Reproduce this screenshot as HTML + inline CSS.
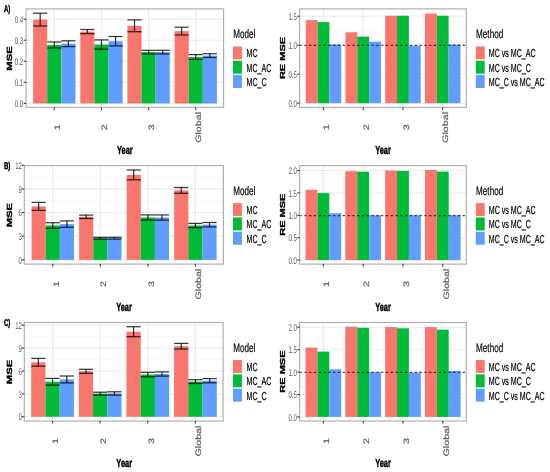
<!DOCTYPE html>
<html><head><meta charset="utf-8"><title>Figure</title>
<style>html,body{margin:0;padding:0;background:#fff;width:550px;height:472px;overflow:hidden}svg{display:block;filter:blur(0.45px)}</style>
</head><body>
<svg width="550" height="472" viewBox="0 0 550 472" text-rendering="geometricPrecision" font-family='"Liberation Sans", sans-serif'>
<rect x="0" y="0" width="550" height="472" fill="#FFFFFF"/>
<g transform="translate(0,0)">
<text transform="translate(3.9,12) scale(0.62,1)" font-size="9.8" text-anchor="start" font-weight="bold" fill="#000" stroke="#000" stroke-width="0.45">A)</text>
<rect x="26.1" y="8.9" width="197.5" height="98.5" fill="#FFFFFF"/>
<line x1="26.1" y1="92.88" x2="223.6" y2="92.88" stroke="#F2F2F2" stroke-width="0.6"/>
<line x1="26.1" y1="71.83" x2="223.6" y2="71.83" stroke="#F2F2F2" stroke-width="0.6"/>
<line x1="26.1" y1="50.78" x2="223.6" y2="50.78" stroke="#F2F2F2" stroke-width="0.6"/>
<line x1="26.1" y1="29.73" x2="223.6" y2="29.73" stroke="#F2F2F2" stroke-width="0.6"/>
<line x1="26.1" y1="103.4" x2="223.6" y2="103.4" stroke="#E6E6E6" stroke-width="0.9"/>
<line x1="26.1" y1="82.35" x2="223.6" y2="82.35" stroke="#E6E6E6" stroke-width="0.9"/>
<line x1="26.1" y1="61.3" x2="223.6" y2="61.3" stroke="#E6E6E6" stroke-width="0.9"/>
<line x1="26.1" y1="40.25" x2="223.6" y2="40.25" stroke="#E6E6E6" stroke-width="0.9"/>
<line x1="26.1" y1="19.2" x2="223.6" y2="19.2" stroke="#E6E6E6" stroke-width="0.9"/>
<line x1="54.3" y1="8.9" x2="54.3" y2="107.4" stroke="#E6E6E6" stroke-width="0.9"/>
<line x1="101.45" y1="8.9" x2="101.45" y2="107.4" stroke="#E6E6E6" stroke-width="0.9"/>
<line x1="148.6" y1="8.9" x2="148.6" y2="107.4" stroke="#E6E6E6" stroke-width="0.9"/>
<line x1="195.75" y1="8.9" x2="195.75" y2="107.4" stroke="#E6E6E6" stroke-width="0.9"/>
<rect x="33.15" y="19.6" width="14.1" height="83.8" fill="#F8766D"/>
<rect x="47.25" y="45" width="14.1" height="58.4" fill="#00BA38"/>
<rect x="61.35" y="43.7" width="14.1" height="59.7" fill="#619CFF"/>
<rect x="80.3" y="31.6" width="14.1" height="71.8" fill="#F8766D"/>
<rect x="94.4" y="44.5" width="14.1" height="58.9" fill="#00BA38"/>
<rect x="108.5" y="41.2" width="14.1" height="62.2" fill="#619CFF"/>
<rect x="127.45" y="25.8" width="14.1" height="77.6" fill="#F8766D"/>
<rect x="141.55" y="52.1" width="14.1" height="51.3" fill="#00BA38"/>
<rect x="155.65" y="52.1" width="14.1" height="51.3" fill="#619CFF"/>
<rect x="174.6" y="31.1" width="14.1" height="72.3" fill="#F8766D"/>
<rect x="188.7" y="57" width="14.1" height="46.4" fill="#00BA38"/>
<rect x="202.8" y="55.6" width="14.1" height="47.8" fill="#619CFF"/>
<g stroke="#000" stroke-opacity="0.78" stroke-width="1.25" fill="none">
<line x1="33.15" y1="13.2" x2="47.25" y2="13.2" stroke="#000" stroke-width="1.25"/>
<line x1="33.15" y1="26" x2="47.25" y2="26" stroke="#000" stroke-width="1.25"/>
<line x1="40.2" y1="13.2" x2="40.2" y2="26" stroke="#000" stroke-width="1.25"/>
</g>
<g stroke="#000" stroke-opacity="0.78" stroke-width="1.25" fill="none">
<line x1="47.25" y1="42" x2="61.35" y2="42" stroke="#000" stroke-width="1.25"/>
<line x1="47.25" y1="48" x2="61.35" y2="48" stroke="#000" stroke-width="1.25"/>
<line x1="54.3" y1="42" x2="54.3" y2="48" stroke="#000" stroke-width="1.25"/>
</g>
<g stroke="#000" stroke-opacity="0.78" stroke-width="1.25" fill="none">
<line x1="61.35" y1="40.8" x2="75.45" y2="40.8" stroke="#000" stroke-width="1.25"/>
<line x1="61.35" y1="46.6" x2="75.45" y2="46.6" stroke="#000" stroke-width="1.25"/>
<line x1="68.4" y1="40.8" x2="68.4" y2="46.6" stroke="#000" stroke-width="1.25"/>
</g>
<g stroke="#000" stroke-opacity="0.78" stroke-width="1.25" fill="none">
<line x1="80.3" y1="29.5" x2="94.4" y2="29.5" stroke="#000" stroke-width="1.25"/>
<line x1="80.3" y1="33.7" x2="94.4" y2="33.7" stroke="#000" stroke-width="1.25"/>
<line x1="87.35" y1="29.5" x2="87.35" y2="33.7" stroke="#000" stroke-width="1.25"/>
</g>
<g stroke="#000" stroke-opacity="0.78" stroke-width="1.25" fill="none">
<line x1="94.4" y1="39.9" x2="108.5" y2="39.9" stroke="#000" stroke-width="1.25"/>
<line x1="94.4" y1="49.1" x2="108.5" y2="49.1" stroke="#000" stroke-width="1.25"/>
<line x1="101.45" y1="39.9" x2="101.45" y2="49.1" stroke="#000" stroke-width="1.25"/>
</g>
<g stroke="#000" stroke-opacity="0.78" stroke-width="1.25" fill="none">
<line x1="108.5" y1="36.5" x2="122.6" y2="36.5" stroke="#000" stroke-width="1.25"/>
<line x1="108.5" y1="45.9" x2="122.6" y2="45.9" stroke="#000" stroke-width="1.25"/>
<line x1="115.55" y1="36.5" x2="115.55" y2="45.9" stroke="#000" stroke-width="1.25"/>
</g>
<g stroke="#000" stroke-opacity="0.78" stroke-width="1.25" fill="none">
<line x1="127.45" y1="19.9" x2="141.55" y2="19.9" stroke="#000" stroke-width="1.25"/>
<line x1="127.45" y1="31.7" x2="141.55" y2="31.7" stroke="#000" stroke-width="1.25"/>
<line x1="134.5" y1="19.9" x2="134.5" y2="31.7" stroke="#000" stroke-width="1.25"/>
</g>
<g stroke="#000" stroke-opacity="0.78" stroke-width="1.25" fill="none">
<line x1="141.55" y1="50.3" x2="155.65" y2="50.3" stroke="#000" stroke-width="1.25"/>
<line x1="141.55" y1="53.9" x2="155.65" y2="53.9" stroke="#000" stroke-width="1.25"/>
<line x1="148.6" y1="50.3" x2="148.6" y2="53.9" stroke="#000" stroke-width="1.25"/>
</g>
<g stroke="#000" stroke-opacity="0.78" stroke-width="1.25" fill="none">
<line x1="155.65" y1="50.3" x2="169.75" y2="50.3" stroke="#000" stroke-width="1.25"/>
<line x1="155.65" y1="53.9" x2="169.75" y2="53.9" stroke="#000" stroke-width="1.25"/>
<line x1="162.7" y1="50.3" x2="162.7" y2="53.9" stroke="#000" stroke-width="1.25"/>
</g>
<g stroke="#000" stroke-opacity="0.78" stroke-width="1.25" fill="none">
<line x1="174.6" y1="27.2" x2="188.7" y2="27.2" stroke="#000" stroke-width="1.25"/>
<line x1="174.6" y1="35" x2="188.7" y2="35" stroke="#000" stroke-width="1.25"/>
<line x1="181.65" y1="27.2" x2="181.65" y2="35" stroke="#000" stroke-width="1.25"/>
</g>
<g stroke="#000" stroke-opacity="0.78" stroke-width="1.25" fill="none">
<line x1="188.7" y1="54.6" x2="202.8" y2="54.6" stroke="#000" stroke-width="1.25"/>
<line x1="188.7" y1="59.4" x2="202.8" y2="59.4" stroke="#000" stroke-width="1.25"/>
<line x1="195.75" y1="54.6" x2="195.75" y2="59.4" stroke="#000" stroke-width="1.25"/>
</g>
<g stroke="#000" stroke-opacity="0.78" stroke-width="1.25" fill="none">
<line x1="202.8" y1="53.7" x2="216.9" y2="53.7" stroke="#000" stroke-width="1.25"/>
<line x1="202.8" y1="57.5" x2="216.9" y2="57.5" stroke="#000" stroke-width="1.25"/>
<line x1="209.85" y1="53.7" x2="209.85" y2="57.5" stroke="#000" stroke-width="1.25"/>
</g>
<rect x="26.1" y="8.9" width="197.5" height="98.5" fill="none" stroke="#ADADAD" stroke-width="1.15"/>
<line x1="23.7" y1="103.4" x2="26.1" y2="103.4" stroke="#3A3A3A" stroke-width="1.1"/>
<text transform="translate(23.2,107) scale(0.62,1)" font-size="9.8" text-anchor="end" font-weight="normal" fill="#5C5C5C">0.0</text>
<line x1="23.7" y1="82.35" x2="26.1" y2="82.35" stroke="#3A3A3A" stroke-width="1.1"/>
<text transform="translate(23.2,86) scale(0.62,1)" font-size="9.8" text-anchor="end" font-weight="normal" fill="#5C5C5C">0.1</text>
<line x1="23.7" y1="61.3" x2="26.1" y2="61.3" stroke="#3A3A3A" stroke-width="1.1"/>
<text transform="translate(23.2,65) scale(0.62,1)" font-size="9.8" text-anchor="end" font-weight="normal" fill="#5C5C5C">0.2</text>
<line x1="23.7" y1="40.25" x2="26.1" y2="40.25" stroke="#3A3A3A" stroke-width="1.1"/>
<text transform="translate(23.2,44) scale(0.62,1)" font-size="9.8" text-anchor="end" font-weight="normal" fill="#5C5C5C">0.3</text>
<line x1="23.7" y1="19.2" x2="26.1" y2="19.2" stroke="#3A3A3A" stroke-width="1.1"/>
<text transform="translate(23.2,23) scale(0.62,1)" font-size="9.8" text-anchor="end" font-weight="normal" fill="#5C5C5C">0.4</text>
<line x1="54.3" y1="107.4" x2="54.3" y2="110" stroke="#3A3A3A" stroke-width="1.1"/>
<line x1="101.45" y1="107.4" x2="101.45" y2="110" stroke="#3A3A3A" stroke-width="1.1"/>
<line x1="148.6" y1="107.4" x2="148.6" y2="110" stroke="#3A3A3A" stroke-width="1.1"/>
<line x1="195.75" y1="107.4" x2="195.75" y2="110" stroke="#3A3A3A" stroke-width="1.1"/>
<text transform="translate(60.03,127.4) scale(0.74,1) rotate(-90)" font-size="10.7" text-anchor="middle" font-weight="normal" fill="#5C5C5C" stroke="#5C5C5C" stroke-width="0.25">1</text>
<text transform="translate(107.18,127.4) scale(0.74,1) rotate(-90)" font-size="10.7" text-anchor="middle" font-weight="normal" fill="#5C5C5C" stroke="#5C5C5C" stroke-width="0.25">2</text>
<text transform="translate(154.33,127.4) scale(0.74,1) rotate(-90)" font-size="10.7" text-anchor="middle" font-weight="normal" fill="#5C5C5C" stroke="#5C5C5C" stroke-width="0.25">3</text>
<text transform="translate(201.48,127.4) scale(0.74,1) rotate(-90)" font-size="10.7" text-anchor="middle" font-weight="normal" fill="#5C5C5C" stroke="#5C5C5C" stroke-width="0.25">Global</text>
<text transform="translate(124.9,154) scale(0.63,1)" font-size="11.8" text-anchor="middle" font-weight="bold" fill="#000" stroke="#000" stroke-width="0.45">Year</text>
<text transform="translate(11.9,58.4) scale(0.66,1) rotate(-90)" font-size="11.3" text-anchor="middle" font-weight="bold" fill="#000" stroke="#000" stroke-width="0.45">MSE</text>
<text transform="translate(233.3,38) scale(0.66,1)" font-size="12.3" text-anchor="start" font-weight="normal" fill="#000" stroke="#000" stroke-width="0.2">Model</text>
<rect x="233" y="46.45" width="8.9" height="12.95" fill="#F8766D"/>
<text transform="translate(246.5,57) scale(0.61,1)" font-size="11.6" text-anchor="start" font-weight="normal" fill="#000" stroke="#000" stroke-width="0.22">MC</text>
<rect x="233" y="60.75" width="8.9" height="12.95" fill="#00BA38"/>
<text transform="translate(246.5,72) scale(0.61,1)" font-size="11.6" text-anchor="start" font-weight="normal" fill="#000" stroke="#000" stroke-width="0.22">MC_AC</text>
<rect x="233" y="75.05" width="8.9" height="12.95" fill="#619CFF"/>
<text transform="translate(246.5,86) scale(0.61,1)" font-size="11.6" text-anchor="start" font-weight="normal" fill="#000" stroke="#000" stroke-width="0.22">MC_C</text>
<rect x="299.6" y="8.9" width="166.7" height="98.5" fill="#FFFFFF"/>
<line x1="299.6" y1="88.7" x2="466.3" y2="88.7" stroke="#F2F2F2" stroke-width="0.6"/>
<line x1="299.6" y1="59.7" x2="466.3" y2="59.7" stroke="#F2F2F2" stroke-width="0.6"/>
<line x1="299.6" y1="30.7" x2="466.3" y2="30.7" stroke="#F2F2F2" stroke-width="0.6"/>
<line x1="299.6" y1="103.2" x2="466.3" y2="103.2" stroke="#E6E6E6" stroke-width="0.9"/>
<line x1="299.6" y1="74.2" x2="466.3" y2="74.2" stroke="#E6E6E6" stroke-width="0.9"/>
<line x1="299.6" y1="45.2" x2="466.3" y2="45.2" stroke="#E6E6E6" stroke-width="0.9"/>
<line x1="299.6" y1="16.2" x2="466.3" y2="16.2" stroke="#E6E6E6" stroke-width="0.9"/>
<line x1="323.5" y1="8.9" x2="323.5" y2="107.4" stroke="#E6E6E6" stroke-width="0.9"/>
<line x1="363.23" y1="8.9" x2="363.23" y2="107.4" stroke="#E6E6E6" stroke-width="0.9"/>
<line x1="402.95" y1="8.9" x2="402.95" y2="107.4" stroke="#E6E6E6" stroke-width="0.9"/>
<line x1="442.69" y1="8.9" x2="442.69" y2="107.4" stroke="#E6E6E6" stroke-width="0.9"/>
<rect x="305.75" y="20.1" width="11.83" height="83.1" fill="#F8766D"/>
<rect x="317.58" y="22.1" width="11.83" height="81.1" fill="#00BA38"/>
<rect x="329.41" y="44.3" width="11.83" height="58.9" fill="#619CFF"/>
<rect x="345.48" y="32.3" width="11.83" height="70.9" fill="#F8766D"/>
<rect x="357.31" y="36.6" width="11.83" height="66.6" fill="#00BA38"/>
<rect x="369.14" y="41.7" width="11.83" height="61.5" fill="#619CFF"/>
<rect x="385.21" y="15.7" width="11.83" height="87.5" fill="#F8766D"/>
<rect x="397.04" y="15.7" width="11.83" height="87.5" fill="#00BA38"/>
<rect x="408.87" y="45.7" width="11.83" height="57.5" fill="#619CFF"/>
<rect x="424.94" y="13.5" width="11.83" height="89.7" fill="#F8766D"/>
<rect x="436.77" y="15.7" width="11.83" height="87.5" fill="#00BA38"/>
<rect x="448.6" y="44.4" width="11.83" height="58.8" fill="#619CFF"/>
<line x1="299.6" y1="45.4" x2="466.3" y2="45.4" stroke="#000" stroke-width="1.25" stroke-dasharray="2.1 2.7" stroke-opacity="0.72"/>
<rect x="299.6" y="8.9" width="166.7" height="98.5" fill="none" stroke="#ADADAD" stroke-width="1.15"/>
<line x1="297.2" y1="103.2" x2="299.6" y2="103.2" stroke="#3A3A3A" stroke-width="1.1"/>
<text transform="translate(296.9,107) scale(0.62,1)" font-size="9.8" text-anchor="end" font-weight="normal" fill="#5C5C5C">0.0</text>
<line x1="297.2" y1="74.2" x2="299.6" y2="74.2" stroke="#3A3A3A" stroke-width="1.1"/>
<text transform="translate(296.9,78) scale(0.62,1)" font-size="9.8" text-anchor="end" font-weight="normal" fill="#5C5C5C">0.5</text>
<line x1="297.2" y1="45.2" x2="299.6" y2="45.2" stroke="#3A3A3A" stroke-width="1.1"/>
<text transform="translate(296.9,49) scale(0.62,1)" font-size="9.8" text-anchor="end" font-weight="normal" fill="#5C5C5C">1.0</text>
<line x1="297.2" y1="16.2" x2="299.6" y2="16.2" stroke="#3A3A3A" stroke-width="1.1"/>
<text transform="translate(296.9,20) scale(0.62,1)" font-size="9.8" text-anchor="end" font-weight="normal" fill="#5C5C5C">1.5</text>
<line x1="323.5" y1="107.4" x2="323.5" y2="110" stroke="#3A3A3A" stroke-width="1.1"/>
<line x1="363.23" y1="107.4" x2="363.23" y2="110" stroke="#3A3A3A" stroke-width="1.1"/>
<line x1="402.95" y1="107.4" x2="402.95" y2="110" stroke="#3A3A3A" stroke-width="1.1"/>
<line x1="442.69" y1="107.4" x2="442.69" y2="110" stroke="#3A3A3A" stroke-width="1.1"/>
<text transform="translate(329.23,127.4) scale(0.74,1) rotate(-90)" font-size="10.7" text-anchor="middle" font-weight="normal" fill="#5C5C5C" stroke="#5C5C5C" stroke-width="0.25">1</text>
<text transform="translate(368.96,127.4) scale(0.74,1) rotate(-90)" font-size="10.7" text-anchor="middle" font-weight="normal" fill="#5C5C5C" stroke="#5C5C5C" stroke-width="0.25">2</text>
<text transform="translate(408.69,127.4) scale(0.74,1) rotate(-90)" font-size="10.7" text-anchor="middle" font-weight="normal" fill="#5C5C5C" stroke="#5C5C5C" stroke-width="0.25">3</text>
<text transform="translate(448.42,127.4) scale(0.74,1) rotate(-90)" font-size="10.7" text-anchor="middle" font-weight="normal" fill="#5C5C5C" stroke="#5C5C5C" stroke-width="0.25">Global</text>
<text transform="translate(383,154) scale(0.63,1)" font-size="11.8" text-anchor="middle" font-weight="bold" fill="#000" stroke="#000" stroke-width="0.45">Year</text>
<text transform="translate(285.4,58) scale(0.66,1) rotate(-90)" font-size="11" text-anchor="middle" font-weight="bold" fill="#000" stroke="#000" stroke-width="0.45">RE MSE</text>
<text transform="translate(476.1,38) scale(0.66,1)" font-size="12.3" text-anchor="start" font-weight="normal" fill="#000" stroke="#000" stroke-width="0.2">Method</text>
<rect x="475.8" y="46.45" width="8.9" height="12.95" fill="#F8766D"/>
<text transform="translate(488.8,57) scale(0.61,1)" font-size="11.6" text-anchor="start" font-weight="normal" fill="#000" stroke="#000" stroke-width="0.22">MC vs MC_AC</text>
<rect x="475.8" y="60.75" width="8.9" height="12.95" fill="#00BA38"/>
<text transform="translate(488.8,72) scale(0.61,1)" font-size="11.6" text-anchor="start" font-weight="normal" fill="#000" stroke="#000" stroke-width="0.22">MC vs MC_C</text>
<rect x="475.8" y="75.05" width="8.9" height="12.95" fill="#619CFF"/>
<text transform="translate(488.8,86) scale(0.61,1)" font-size="11.6" text-anchor="start" font-weight="normal" fill="#000" stroke="#000" stroke-width="0.22">MC_C vs MC_AC</text>
</g>
<g transform="translate(0,156.7)">
<text transform="translate(3.9,12.3) scale(0.62,1)" font-size="9.8" text-anchor="start" font-weight="bold" fill="#000" stroke="#000" stroke-width="0.45">B)</text>
<rect x="24.3" y="8.9" width="199.1" height="98.5" fill="#FFFFFF"/>
<line x1="24.3" y1="91.37" x2="223.4" y2="91.37" stroke="#F2F2F2" stroke-width="0.6"/>
<line x1="24.3" y1="67.72" x2="223.4" y2="67.72" stroke="#F2F2F2" stroke-width="0.6"/>
<line x1="24.3" y1="44.07" x2="223.4" y2="44.07" stroke="#F2F2F2" stroke-width="0.6"/>
<line x1="24.3" y1="20.42" x2="223.4" y2="20.42" stroke="#F2F2F2" stroke-width="0.6"/>
<line x1="24.3" y1="103.2" x2="223.4" y2="103.2" stroke="#E6E6E6" stroke-width="0.9"/>
<line x1="24.3" y1="79.55" x2="223.4" y2="79.55" stroke="#E6E6E6" stroke-width="0.9"/>
<line x1="24.3" y1="55.9" x2="223.4" y2="55.9" stroke="#E6E6E6" stroke-width="0.9"/>
<line x1="24.3" y1="32.25" x2="223.4" y2="32.25" stroke="#E6E6E6" stroke-width="0.9"/>
<line x1="52.8" y1="8.9" x2="52.8" y2="107.4" stroke="#E6E6E6" stroke-width="0.9"/>
<line x1="100.33" y1="8.9" x2="100.33" y2="107.4" stroke="#E6E6E6" stroke-width="0.9"/>
<line x1="147.86" y1="8.9" x2="147.86" y2="107.4" stroke="#E6E6E6" stroke-width="0.9"/>
<line x1="195.38" y1="8.9" x2="195.38" y2="107.4" stroke="#E6E6E6" stroke-width="0.9"/>
<rect x="31.6" y="49.7" width="14.13" height="53.5" fill="#F8766D"/>
<rect x="45.73" y="68.8" width="14.13" height="34.4" fill="#00BA38"/>
<rect x="59.86" y="67.4" width="14.13" height="35.8" fill="#619CFF"/>
<rect x="79.13" y="60.1" width="14.13" height="43.1" fill="#F8766D"/>
<rect x="93.26" y="81.5" width="14.13" height="21.7" fill="#00BA38"/>
<rect x="107.39" y="81.5" width="14.13" height="21.7" fill="#619CFF"/>
<rect x="126.66" y="18.2" width="14.13" height="85" fill="#F8766D"/>
<rect x="140.79" y="60.8" width="14.13" height="42.4" fill="#00BA38"/>
<rect x="154.92" y="60.8" width="14.13" height="42.4" fill="#619CFF"/>
<rect x="174.19" y="33.7" width="14.13" height="69.5" fill="#F8766D"/>
<rect x="188.32" y="68.8" width="14.13" height="34.4" fill="#00BA38"/>
<rect x="202.45" y="68" width="14.13" height="35.2" fill="#619CFF"/>
<g stroke="#000" stroke-opacity="0.78" stroke-width="1.25" fill="none">
<line x1="31.6" y1="45.7" x2="45.73" y2="45.7" stroke="#000" stroke-width="1.25"/>
<line x1="31.6" y1="53.7" x2="45.73" y2="53.7" stroke="#000" stroke-width="1.25"/>
<line x1="38.66" y1="45.7" x2="38.66" y2="53.7" stroke="#000" stroke-width="1.25"/>
</g>
<g stroke="#000" stroke-opacity="0.78" stroke-width="1.25" fill="none">
<line x1="45.73" y1="66" x2="59.86" y2="66" stroke="#000" stroke-width="1.25"/>
<line x1="45.73" y1="71.6" x2="59.86" y2="71.6" stroke="#000" stroke-width="1.25"/>
<line x1="52.8" y1="66" x2="52.8" y2="71.6" stroke="#000" stroke-width="1.25"/>
</g>
<g stroke="#000" stroke-opacity="0.78" stroke-width="1.25" fill="none">
<line x1="59.86" y1="64.2" x2="73.99" y2="64.2" stroke="#000" stroke-width="1.25"/>
<line x1="59.86" y1="70.6" x2="73.99" y2="70.6" stroke="#000" stroke-width="1.25"/>
<line x1="66.92" y1="64.2" x2="66.92" y2="70.6" stroke="#000" stroke-width="1.25"/>
</g>
<g stroke="#000" stroke-opacity="0.78" stroke-width="1.25" fill="none">
<line x1="79.13" y1="58.4" x2="93.26" y2="58.4" stroke="#000" stroke-width="1.25"/>
<line x1="79.13" y1="61.8" x2="93.26" y2="61.8" stroke="#000" stroke-width="1.25"/>
<line x1="86.19" y1="58.4" x2="86.19" y2="61.8" stroke="#000" stroke-width="1.25"/>
</g>
<g stroke="#000" stroke-opacity="0.78" stroke-width="1.25" fill="none">
<line x1="93.26" y1="80.6" x2="107.39" y2="80.6" stroke="#000" stroke-width="1.25"/>
<line x1="93.26" y1="82.4" x2="107.39" y2="82.4" stroke="#000" stroke-width="1.25"/>
<line x1="100.32" y1="80.6" x2="100.32" y2="82.4" stroke="#000" stroke-width="1.25"/>
</g>
<g stroke="#000" stroke-opacity="0.78" stroke-width="1.25" fill="none">
<line x1="107.39" y1="80.6" x2="121.52" y2="80.6" stroke="#000" stroke-width="1.25"/>
<line x1="107.39" y1="82.4" x2="121.52" y2="82.4" stroke="#000" stroke-width="1.25"/>
<line x1="114.45" y1="80.6" x2="114.45" y2="82.4" stroke="#000" stroke-width="1.25"/>
</g>
<g stroke="#000" stroke-opacity="0.78" stroke-width="1.25" fill="none">
<line x1="126.66" y1="13.3" x2="140.79" y2="13.3" stroke="#000" stroke-width="1.25"/>
<line x1="126.66" y1="23.1" x2="140.79" y2="23.1" stroke="#000" stroke-width="1.25"/>
<line x1="133.72" y1="13.3" x2="133.72" y2="23.1" stroke="#000" stroke-width="1.25"/>
</g>
<g stroke="#000" stroke-opacity="0.78" stroke-width="1.25" fill="none">
<line x1="140.79" y1="58.2" x2="154.92" y2="58.2" stroke="#000" stroke-width="1.25"/>
<line x1="140.79" y1="63.4" x2="154.92" y2="63.4" stroke="#000" stroke-width="1.25"/>
<line x1="147.85" y1="58.2" x2="147.85" y2="63.4" stroke="#000" stroke-width="1.25"/>
</g>
<g stroke="#000" stroke-opacity="0.78" stroke-width="1.25" fill="none">
<line x1="154.92" y1="58.2" x2="169.05" y2="58.2" stroke="#000" stroke-width="1.25"/>
<line x1="154.92" y1="63.4" x2="169.05" y2="63.4" stroke="#000" stroke-width="1.25"/>
<line x1="161.98" y1="58.2" x2="161.98" y2="63.4" stroke="#000" stroke-width="1.25"/>
</g>
<g stroke="#000" stroke-opacity="0.78" stroke-width="1.25" fill="none">
<line x1="174.19" y1="30.8" x2="188.32" y2="30.8" stroke="#000" stroke-width="1.25"/>
<line x1="174.19" y1="36.6" x2="188.32" y2="36.6" stroke="#000" stroke-width="1.25"/>
<line x1="181.25" y1="30.8" x2="181.25" y2="36.6" stroke="#000" stroke-width="1.25"/>
</g>
<g stroke="#000" stroke-opacity="0.78" stroke-width="1.25" fill="none">
<line x1="188.32" y1="66.7" x2="202.45" y2="66.7" stroke="#000" stroke-width="1.25"/>
<line x1="188.32" y1="70.9" x2="202.45" y2="70.9" stroke="#000" stroke-width="1.25"/>
<line x1="195.38" y1="66.7" x2="195.38" y2="70.9" stroke="#000" stroke-width="1.25"/>
</g>
<g stroke="#000" stroke-opacity="0.78" stroke-width="1.25" fill="none">
<line x1="202.45" y1="65.8" x2="216.58" y2="65.8" stroke="#000" stroke-width="1.25"/>
<line x1="202.45" y1="70.2" x2="216.58" y2="70.2" stroke="#000" stroke-width="1.25"/>
<line x1="209.51" y1="65.8" x2="209.51" y2="70.2" stroke="#000" stroke-width="1.25"/>
</g>
<rect x="24.3" y="8.9" width="199.1" height="98.5" fill="none" stroke="#ADADAD" stroke-width="1.15"/>
<line x1="21.9" y1="103.2" x2="24.3" y2="103.2" stroke="#3A3A3A" stroke-width="1.1"/>
<text transform="translate(21.9,107.3) scale(0.62,1)" font-size="9.8" text-anchor="end" font-weight="normal" fill="#5C5C5C">0</text>
<line x1="21.9" y1="79.55" x2="24.3" y2="79.55" stroke="#3A3A3A" stroke-width="1.1"/>
<text transform="translate(21.9,83.3) scale(0.62,1)" font-size="9.8" text-anchor="end" font-weight="normal" fill="#5C5C5C">3</text>
<line x1="21.9" y1="55.9" x2="24.3" y2="55.9" stroke="#3A3A3A" stroke-width="1.1"/>
<text transform="translate(21.9,59.3) scale(0.62,1)" font-size="9.8" text-anchor="end" font-weight="normal" fill="#5C5C5C">6</text>
<line x1="21.9" y1="32.25" x2="24.3" y2="32.25" stroke="#3A3A3A" stroke-width="1.1"/>
<text transform="translate(21.9,36.3) scale(0.62,1)" font-size="9.8" text-anchor="end" font-weight="normal" fill="#5C5C5C">9</text>
<line x1="21.9" y1="8.6" x2="24.3" y2="8.6" stroke="#3A3A3A" stroke-width="1.1"/>
<text transform="translate(21.9,12.3) scale(0.62,1)" font-size="9.8" text-anchor="end" font-weight="normal" fill="#5C5C5C">12</text>
<line x1="52.8" y1="107.4" x2="52.8" y2="110" stroke="#3A3A3A" stroke-width="1.1"/>
<line x1="100.33" y1="107.4" x2="100.33" y2="110" stroke="#3A3A3A" stroke-width="1.1"/>
<line x1="147.86" y1="107.4" x2="147.86" y2="110" stroke="#3A3A3A" stroke-width="1.1"/>
<line x1="195.38" y1="107.4" x2="195.38" y2="110" stroke="#3A3A3A" stroke-width="1.1"/>
<text transform="translate(58.53,127.4) scale(0.74,1) rotate(-90)" font-size="10.7" text-anchor="middle" font-weight="normal" fill="#5C5C5C" stroke="#5C5C5C" stroke-width="0.25">1</text>
<text transform="translate(106.06,127.4) scale(0.74,1) rotate(-90)" font-size="10.7" text-anchor="middle" font-weight="normal" fill="#5C5C5C" stroke="#5C5C5C" stroke-width="0.25">2</text>
<text transform="translate(153.59,127.4) scale(0.74,1) rotate(-90)" font-size="10.7" text-anchor="middle" font-weight="normal" fill="#5C5C5C" stroke="#5C5C5C" stroke-width="0.25">3</text>
<text transform="translate(201.12,127.4) scale(0.74,1) rotate(-90)" font-size="10.7" text-anchor="middle" font-weight="normal" fill="#5C5C5C" stroke="#5C5C5C" stroke-width="0.25">Global</text>
<text transform="translate(124,154.3) scale(0.63,1)" font-size="11.8" text-anchor="middle" font-weight="bold" fill="#000" stroke="#000" stroke-width="0.45">Year</text>
<text transform="translate(11.9,58.4) scale(0.66,1) rotate(-90)" font-size="11.3" text-anchor="middle" font-weight="bold" fill="#000" stroke="#000" stroke-width="0.45">MSE</text>
<text transform="translate(233.3,38.3) scale(0.66,1)" font-size="12.3" text-anchor="start" font-weight="normal" fill="#000" stroke="#000" stroke-width="0.2">Model</text>
<rect x="233" y="46.45" width="8.9" height="12.95" fill="#F8766D"/>
<text transform="translate(246.5,57.3) scale(0.61,1)" font-size="11.6" text-anchor="start" font-weight="normal" fill="#000" stroke="#000" stroke-width="0.22">MC</text>
<rect x="233" y="60.75" width="8.9" height="12.95" fill="#00BA38"/>
<text transform="translate(246.5,71.3) scale(0.61,1)" font-size="11.6" text-anchor="start" font-weight="normal" fill="#000" stroke="#000" stroke-width="0.22">MC_AC</text>
<rect x="233" y="75.05" width="8.9" height="12.95" fill="#619CFF"/>
<text transform="translate(246.5,86.3) scale(0.61,1)" font-size="11.6" text-anchor="start" font-weight="normal" fill="#000" stroke="#000" stroke-width="0.22">MC_C</text>
<rect x="299.6" y="8.9" width="166.7" height="98.5" fill="#FFFFFF"/>
<line x1="299.6" y1="92.2" x2="466.3" y2="92.2" stroke="#F2F2F2" stroke-width="0.6"/>
<line x1="299.6" y1="69.8" x2="466.3" y2="69.8" stroke="#F2F2F2" stroke-width="0.6"/>
<line x1="299.6" y1="47.4" x2="466.3" y2="47.4" stroke="#F2F2F2" stroke-width="0.6"/>
<line x1="299.6" y1="25" x2="466.3" y2="25" stroke="#F2F2F2" stroke-width="0.6"/>
<line x1="299.6" y1="103.4" x2="466.3" y2="103.4" stroke="#E6E6E6" stroke-width="0.9"/>
<line x1="299.6" y1="81" x2="466.3" y2="81" stroke="#E6E6E6" stroke-width="0.9"/>
<line x1="299.6" y1="58.6" x2="466.3" y2="58.6" stroke="#E6E6E6" stroke-width="0.9"/>
<line x1="299.6" y1="36.2" x2="466.3" y2="36.2" stroke="#E6E6E6" stroke-width="0.9"/>
<line x1="299.6" y1="13.8" x2="466.3" y2="13.8" stroke="#E6E6E6" stroke-width="0.9"/>
<line x1="323.37" y1="8.9" x2="323.37" y2="107.4" stroke="#E6E6E6" stroke-width="0.9"/>
<line x1="363.17" y1="8.9" x2="363.17" y2="107.4" stroke="#E6E6E6" stroke-width="0.9"/>
<line x1="402.97" y1="8.9" x2="402.97" y2="107.4" stroke="#E6E6E6" stroke-width="0.9"/>
<line x1="442.77" y1="8.9" x2="442.77" y2="107.4" stroke="#E6E6E6" stroke-width="0.9"/>
<rect x="305.55" y="33.1" width="11.88" height="70.3" fill="#F8766D"/>
<rect x="317.43" y="36.4" width="11.88" height="67" fill="#00BA38"/>
<rect x="329.31" y="56.5" width="11.88" height="46.9" fill="#619CFF"/>
<rect x="345.35" y="14.5" width="11.88" height="88.9" fill="#F8766D"/>
<rect x="357.23" y="15" width="11.88" height="88.4" fill="#00BA38"/>
<rect x="369.11" y="58.6" width="11.88" height="44.8" fill="#619CFF"/>
<rect x="385.15" y="13.8" width="11.88" height="89.6" fill="#F8766D"/>
<rect x="397.03" y="14.2" width="11.88" height="89.2" fill="#00BA38"/>
<rect x="408.91" y="58.5" width="11.88" height="44.9" fill="#619CFF"/>
<rect x="424.95" y="13.3" width="11.88" height="90.1" fill="#F8766D"/>
<rect x="436.83" y="14.9" width="11.88" height="88.5" fill="#00BA38"/>
<rect x="448.71" y="58.5" width="11.88" height="44.9" fill="#619CFF"/>
<line x1="299.6" y1="58.8" x2="466.3" y2="58.8" stroke="#000" stroke-width="1.25" stroke-dasharray="2.1 2.7" stroke-opacity="0.72"/>
<rect x="299.6" y="8.9" width="166.7" height="98.5" fill="none" stroke="#ADADAD" stroke-width="1.15"/>
<line x1="297.2" y1="103.4" x2="299.6" y2="103.4" stroke="#3A3A3A" stroke-width="1.1"/>
<text transform="translate(296.9,107.3) scale(0.62,1)" font-size="9.8" text-anchor="end" font-weight="normal" fill="#5C5C5C">0.0</text>
<line x1="297.2" y1="81" x2="299.6" y2="81" stroke="#3A3A3A" stroke-width="1.1"/>
<text transform="translate(296.9,84.3) scale(0.62,1)" font-size="9.8" text-anchor="end" font-weight="normal" fill="#5C5C5C">0.5</text>
<line x1="297.2" y1="58.6" x2="299.6" y2="58.6" stroke="#3A3A3A" stroke-width="1.1"/>
<text transform="translate(296.9,62.3) scale(0.62,1)" font-size="9.8" text-anchor="end" font-weight="normal" fill="#5C5C5C">1.0</text>
<line x1="297.2" y1="36.2" x2="299.6" y2="36.2" stroke="#3A3A3A" stroke-width="1.1"/>
<text transform="translate(296.9,40.3) scale(0.62,1)" font-size="9.8" text-anchor="end" font-weight="normal" fill="#5C5C5C">1.5</text>
<line x1="297.2" y1="13.8" x2="299.6" y2="13.8" stroke="#3A3A3A" stroke-width="1.1"/>
<text transform="translate(296.9,17.3) scale(0.62,1)" font-size="9.8" text-anchor="end" font-weight="normal" fill="#5C5C5C">2.0</text>
<line x1="323.37" y1="107.4" x2="323.37" y2="110" stroke="#3A3A3A" stroke-width="1.1"/>
<line x1="363.17" y1="107.4" x2="363.17" y2="110" stroke="#3A3A3A" stroke-width="1.1"/>
<line x1="402.97" y1="107.4" x2="402.97" y2="110" stroke="#3A3A3A" stroke-width="1.1"/>
<line x1="442.77" y1="107.4" x2="442.77" y2="110" stroke="#3A3A3A" stroke-width="1.1"/>
<text transform="translate(329.1,127.4) scale(0.74,1) rotate(-90)" font-size="10.7" text-anchor="middle" font-weight="normal" fill="#5C5C5C" stroke="#5C5C5C" stroke-width="0.25">1</text>
<text transform="translate(368.9,127.4) scale(0.74,1) rotate(-90)" font-size="10.7" text-anchor="middle" font-weight="normal" fill="#5C5C5C" stroke="#5C5C5C" stroke-width="0.25">2</text>
<text transform="translate(408.7,127.4) scale(0.74,1) rotate(-90)" font-size="10.7" text-anchor="middle" font-weight="normal" fill="#5C5C5C" stroke="#5C5C5C" stroke-width="0.25">3</text>
<text transform="translate(448.5,127.4) scale(0.74,1) rotate(-90)" font-size="10.7" text-anchor="middle" font-weight="normal" fill="#5C5C5C" stroke="#5C5C5C" stroke-width="0.25">Global</text>
<text transform="translate(383,154.3) scale(0.63,1)" font-size="11.8" text-anchor="middle" font-weight="bold" fill="#000" stroke="#000" stroke-width="0.45">Year</text>
<text transform="translate(285.4,58) scale(0.66,1) rotate(-90)" font-size="11" text-anchor="middle" font-weight="bold" fill="#000" stroke="#000" stroke-width="0.45">RE MSE</text>
<text transform="translate(476.1,38.3) scale(0.66,1)" font-size="12.3" text-anchor="start" font-weight="normal" fill="#000" stroke="#000" stroke-width="0.2">Method</text>
<rect x="475.8" y="46.45" width="8.9" height="12.95" fill="#F8766D"/>
<text transform="translate(488.8,57.3) scale(0.61,1)" font-size="11.6" text-anchor="start" font-weight="normal" fill="#000" stroke="#000" stroke-width="0.22">MC vs MC_AC</text>
<rect x="475.8" y="60.75" width="8.9" height="12.95" fill="#00BA38"/>
<text transform="translate(488.8,71.3) scale(0.61,1)" font-size="11.6" text-anchor="start" font-weight="normal" fill="#000" stroke="#000" stroke-width="0.22">MC vs MC_C</text>
<rect x="475.8" y="75.05" width="8.9" height="12.95" fill="#619CFF"/>
<text transform="translate(488.8,86.3) scale(0.61,1)" font-size="11.6" text-anchor="start" font-weight="normal" fill="#000" stroke="#000" stroke-width="0.22">MC_C vs MC_AC</text>
</g>
<g transform="translate(0,313.6)">
<text transform="translate(3.9,12.4) scale(0.62,1)" font-size="9.8" text-anchor="start" font-weight="bold" fill="#000" stroke="#000" stroke-width="0.45">C)</text>
<rect x="24.3" y="8.9" width="198.8" height="98.5" fill="#FFFFFF"/>
<line x1="24.3" y1="91.75" x2="223.1" y2="91.75" stroke="#F2F2F2" stroke-width="0.6"/>
<line x1="24.3" y1="68.85" x2="223.1" y2="68.85" stroke="#F2F2F2" stroke-width="0.6"/>
<line x1="24.3" y1="45.95" x2="223.1" y2="45.95" stroke="#F2F2F2" stroke-width="0.6"/>
<line x1="24.3" y1="23.05" x2="223.1" y2="23.05" stroke="#F2F2F2" stroke-width="0.6"/>
<line x1="24.3" y1="103.2" x2="223.1" y2="103.2" stroke="#E6E6E6" stroke-width="0.9"/>
<line x1="24.3" y1="80.3" x2="223.1" y2="80.3" stroke="#E6E6E6" stroke-width="0.9"/>
<line x1="24.3" y1="57.4" x2="223.1" y2="57.4" stroke="#E6E6E6" stroke-width="0.9"/>
<line x1="24.3" y1="34.5" x2="223.1" y2="34.5" stroke="#E6E6E6" stroke-width="0.9"/>
<line x1="24.3" y1="11.6" x2="223.1" y2="11.6" stroke="#E6E6E6" stroke-width="0.9"/>
<line x1="52.55" y1="8.9" x2="52.55" y2="107.4" stroke="#E6E6E6" stroke-width="0.9"/>
<line x1="100.18" y1="8.9" x2="100.18" y2="107.4" stroke="#E6E6E6" stroke-width="0.9"/>
<line x1="147.81" y1="8.9" x2="147.81" y2="107.4" stroke="#E6E6E6" stroke-width="0.9"/>
<line x1="195.44" y1="8.9" x2="195.44" y2="107.4" stroke="#E6E6E6" stroke-width="0.9"/>
<rect x="31.2" y="48.7" width="14.23" height="54.5" fill="#F8766D"/>
<rect x="45.43" y="68.15" width="14.23" height="35.05" fill="#00BA38"/>
<rect x="59.66" y="65.85" width="14.23" height="37.35" fill="#619CFF"/>
<rect x="78.83" y="57.7" width="14.23" height="45.5" fill="#F8766D"/>
<rect x="93.06" y="80.05" width="14.23" height="23.15" fill="#00BA38"/>
<rect x="107.29" y="79.85" width="14.23" height="23.35" fill="#619CFF"/>
<rect x="126.46" y="18.1" width="14.23" height="85.1" fill="#F8766D"/>
<rect x="140.69" y="60.95" width="14.23" height="42.25" fill="#00BA38"/>
<rect x="154.92" y="60.4" width="14.23" height="42.8" fill="#619CFF"/>
<rect x="174.09" y="32.6" width="14.23" height="70.6" fill="#F8766D"/>
<rect x="188.32" y="68" width="14.23" height="35.2" fill="#00BA38"/>
<rect x="202.55" y="67.1" width="14.23" height="36.1" fill="#619CFF"/>
<g stroke="#000" stroke-opacity="0.78" stroke-width="1.25" fill="none">
<line x1="31.2" y1="44.8" x2="45.43" y2="44.8" stroke="#000" stroke-width="1.25"/>
<line x1="31.2" y1="52.6" x2="45.43" y2="52.6" stroke="#000" stroke-width="1.25"/>
<line x1="38.31" y1="44.8" x2="38.31" y2="52.6" stroke="#000" stroke-width="1.25"/>
</g>
<g stroke="#000" stroke-opacity="0.78" stroke-width="1.25" fill="none">
<line x1="45.43" y1="64.8" x2="59.66" y2="64.8" stroke="#000" stroke-width="1.25"/>
<line x1="45.43" y1="71.5" x2="59.66" y2="71.5" stroke="#000" stroke-width="1.25"/>
<line x1="52.55" y1="64.8" x2="52.55" y2="71.5" stroke="#000" stroke-width="1.25"/>
</g>
<g stroke="#000" stroke-opacity="0.78" stroke-width="1.25" fill="none">
<line x1="59.66" y1="62.4" x2="73.89" y2="62.4" stroke="#000" stroke-width="1.25"/>
<line x1="59.66" y1="69.3" x2="73.89" y2="69.3" stroke="#000" stroke-width="1.25"/>
<line x1="66.77" y1="62.4" x2="66.77" y2="69.3" stroke="#000" stroke-width="1.25"/>
</g>
<g stroke="#000" stroke-opacity="0.78" stroke-width="1.25" fill="none">
<line x1="78.83" y1="55.7" x2="93.06" y2="55.7" stroke="#000" stroke-width="1.25"/>
<line x1="78.83" y1="59.7" x2="93.06" y2="59.7" stroke="#000" stroke-width="1.25"/>
<line x1="85.94" y1="55.7" x2="85.94" y2="59.7" stroke="#000" stroke-width="1.25"/>
</g>
<g stroke="#000" stroke-opacity="0.78" stroke-width="1.25" fill="none">
<line x1="93.06" y1="78.6" x2="107.29" y2="78.6" stroke="#000" stroke-width="1.25"/>
<line x1="93.06" y1="81.5" x2="107.29" y2="81.5" stroke="#000" stroke-width="1.25"/>
<line x1="100.17" y1="78.6" x2="100.17" y2="81.5" stroke="#000" stroke-width="1.25"/>
</g>
<g stroke="#000" stroke-opacity="0.78" stroke-width="1.25" fill="none">
<line x1="107.29" y1="78.2" x2="121.52" y2="78.2" stroke="#000" stroke-width="1.25"/>
<line x1="107.29" y1="81.5" x2="121.52" y2="81.5" stroke="#000" stroke-width="1.25"/>
<line x1="114.4" y1="78.2" x2="114.4" y2="81.5" stroke="#000" stroke-width="1.25"/>
</g>
<g stroke="#000" stroke-opacity="0.78" stroke-width="1.25" fill="none">
<line x1="126.46" y1="13.1" x2="140.69" y2="13.1" stroke="#000" stroke-width="1.25"/>
<line x1="126.46" y1="23.1" x2="140.69" y2="23.1" stroke="#000" stroke-width="1.25"/>
<line x1="133.58" y1="13.1" x2="133.58" y2="23.1" stroke="#000" stroke-width="1.25"/>
</g>
<g stroke="#000" stroke-opacity="0.78" stroke-width="1.25" fill="none">
<line x1="140.69" y1="58.7" x2="154.92" y2="58.7" stroke="#000" stroke-width="1.25"/>
<line x1="140.69" y1="63.2" x2="154.92" y2="63.2" stroke="#000" stroke-width="1.25"/>
<line x1="147.81" y1="58.7" x2="147.81" y2="63.2" stroke="#000" stroke-width="1.25"/>
</g>
<g stroke="#000" stroke-opacity="0.78" stroke-width="1.25" fill="none">
<line x1="154.92" y1="58.3" x2="169.15" y2="58.3" stroke="#000" stroke-width="1.25"/>
<line x1="154.92" y1="62.5" x2="169.15" y2="62.5" stroke="#000" stroke-width="1.25"/>
<line x1="162.04" y1="58.3" x2="162.04" y2="62.5" stroke="#000" stroke-width="1.25"/>
</g>
<g stroke="#000" stroke-opacity="0.78" stroke-width="1.25" fill="none">
<line x1="174.09" y1="29.8" x2="188.32" y2="29.8" stroke="#000" stroke-width="1.25"/>
<line x1="174.09" y1="35.4" x2="188.32" y2="35.4" stroke="#000" stroke-width="1.25"/>
<line x1="181.21" y1="29.8" x2="181.21" y2="35.4" stroke="#000" stroke-width="1.25"/>
</g>
<g stroke="#000" stroke-opacity="0.78" stroke-width="1.25" fill="none">
<line x1="188.32" y1="66.1" x2="202.55" y2="66.1" stroke="#000" stroke-width="1.25"/>
<line x1="188.32" y1="69.9" x2="202.55" y2="69.9" stroke="#000" stroke-width="1.25"/>
<line x1="195.44" y1="66.1" x2="195.44" y2="69.9" stroke="#000" stroke-width="1.25"/>
</g>
<g stroke="#000" stroke-opacity="0.78" stroke-width="1.25" fill="none">
<line x1="202.55" y1="65" x2="216.78" y2="65" stroke="#000" stroke-width="1.25"/>
<line x1="202.55" y1="69.2" x2="216.78" y2="69.2" stroke="#000" stroke-width="1.25"/>
<line x1="209.67" y1="65" x2="209.67" y2="69.2" stroke="#000" stroke-width="1.25"/>
</g>
<rect x="24.3" y="8.9" width="198.8" height="98.5" fill="none" stroke="#ADADAD" stroke-width="1.15"/>
<line x1="21.9" y1="103.2" x2="24.3" y2="103.2" stroke="#3A3A3A" stroke-width="1.1"/>
<text transform="translate(21.9,106.4) scale(0.62,1)" font-size="9.8" text-anchor="end" font-weight="normal" fill="#5C5C5C">0</text>
<line x1="21.9" y1="80.3" x2="24.3" y2="80.3" stroke="#3A3A3A" stroke-width="1.1"/>
<text transform="translate(21.9,84.4) scale(0.62,1)" font-size="9.8" text-anchor="end" font-weight="normal" fill="#5C5C5C">3</text>
<line x1="21.9" y1="57.4" x2="24.3" y2="57.4" stroke="#3A3A3A" stroke-width="1.1"/>
<text transform="translate(21.9,61.4) scale(0.62,1)" font-size="9.8" text-anchor="end" font-weight="normal" fill="#5C5C5C">6</text>
<line x1="21.9" y1="34.5" x2="24.3" y2="34.5" stroke="#3A3A3A" stroke-width="1.1"/>
<text transform="translate(21.9,38.4) scale(0.62,1)" font-size="9.8" text-anchor="end" font-weight="normal" fill="#5C5C5C">9</text>
<line x1="21.9" y1="11.6" x2="24.3" y2="11.6" stroke="#3A3A3A" stroke-width="1.1"/>
<text transform="translate(21.9,15.4) scale(0.62,1)" font-size="9.8" text-anchor="end" font-weight="normal" fill="#5C5C5C">12</text>
<line x1="52.55" y1="107.4" x2="52.55" y2="110" stroke="#3A3A3A" stroke-width="1.1"/>
<line x1="100.18" y1="107.4" x2="100.18" y2="110" stroke="#3A3A3A" stroke-width="1.1"/>
<line x1="147.81" y1="107.4" x2="147.81" y2="110" stroke="#3A3A3A" stroke-width="1.1"/>
<line x1="195.44" y1="107.4" x2="195.44" y2="110" stroke="#3A3A3A" stroke-width="1.1"/>
<text transform="translate(58.28,127.4) scale(0.74,1) rotate(-90)" font-size="10.7" text-anchor="middle" font-weight="normal" fill="#5C5C5C" stroke="#5C5C5C" stroke-width="0.25">1</text>
<text transform="translate(105.91,127.4) scale(0.74,1) rotate(-90)" font-size="10.7" text-anchor="middle" font-weight="normal" fill="#5C5C5C" stroke="#5C5C5C" stroke-width="0.25">2</text>
<text transform="translate(153.54,127.4) scale(0.74,1) rotate(-90)" font-size="10.7" text-anchor="middle" font-weight="normal" fill="#5C5C5C" stroke="#5C5C5C" stroke-width="0.25">3</text>
<text transform="translate(201.17,127.4) scale(0.74,1) rotate(-90)" font-size="10.7" text-anchor="middle" font-weight="normal" fill="#5C5C5C" stroke="#5C5C5C" stroke-width="0.25">Global</text>
<text transform="translate(124.2,153.4) scale(0.63,1)" font-size="11.8" text-anchor="middle" font-weight="bold" fill="#000" stroke="#000" stroke-width="0.45">Year</text>
<text transform="translate(11.9,58.4) scale(0.66,1) rotate(-90)" font-size="11.3" text-anchor="middle" font-weight="bold" fill="#000" stroke="#000" stroke-width="0.45">MSE</text>
<text transform="translate(233.3,38.4) scale(0.66,1)" font-size="12.3" text-anchor="start" font-weight="normal" fill="#000" stroke="#000" stroke-width="0.2">Model</text>
<rect x="233" y="46.45" width="8.9" height="12.95" fill="#F8766D"/>
<text transform="translate(246.5,57.4) scale(0.61,1)" font-size="11.6" text-anchor="start" font-weight="normal" fill="#000" stroke="#000" stroke-width="0.22">MC</text>
<rect x="233" y="60.75" width="8.9" height="12.95" fill="#00BA38"/>
<text transform="translate(246.5,71.4) scale(0.61,1)" font-size="11.6" text-anchor="start" font-weight="normal" fill="#000" stroke="#000" stroke-width="0.22">MC_AC</text>
<rect x="233" y="75.05" width="8.9" height="12.95" fill="#619CFF"/>
<text transform="translate(246.5,86.4) scale(0.61,1)" font-size="11.6" text-anchor="start" font-weight="normal" fill="#000" stroke="#000" stroke-width="0.22">MC_C</text>
<rect x="299.6" y="8.9" width="166.7" height="98.5" fill="#FFFFFF"/>
<line x1="299.6" y1="92.1" x2="466.3" y2="92.1" stroke="#F2F2F2" stroke-width="0.6"/>
<line x1="299.6" y1="69.7" x2="466.3" y2="69.7" stroke="#F2F2F2" stroke-width="0.6"/>
<line x1="299.6" y1="47.3" x2="466.3" y2="47.3" stroke="#F2F2F2" stroke-width="0.6"/>
<line x1="299.6" y1="24.9" x2="466.3" y2="24.9" stroke="#F2F2F2" stroke-width="0.6"/>
<line x1="299.6" y1="103.3" x2="466.3" y2="103.3" stroke="#E6E6E6" stroke-width="0.9"/>
<line x1="299.6" y1="80.9" x2="466.3" y2="80.9" stroke="#E6E6E6" stroke-width="0.9"/>
<line x1="299.6" y1="58.5" x2="466.3" y2="58.5" stroke="#E6E6E6" stroke-width="0.9"/>
<line x1="299.6" y1="36.1" x2="466.3" y2="36.1" stroke="#E6E6E6" stroke-width="0.9"/>
<line x1="299.6" y1="13.7" x2="466.3" y2="13.7" stroke="#E6E6E6" stroke-width="0.9"/>
<line x1="323.37" y1="8.9" x2="323.37" y2="107.4" stroke="#E6E6E6" stroke-width="0.9"/>
<line x1="363.17" y1="8.9" x2="363.17" y2="107.4" stroke="#E6E6E6" stroke-width="0.9"/>
<line x1="402.97" y1="8.9" x2="402.97" y2="107.4" stroke="#E6E6E6" stroke-width="0.9"/>
<line x1="442.77" y1="8.9" x2="442.77" y2="107.4" stroke="#E6E6E6" stroke-width="0.9"/>
<rect x="305.55" y="34" width="11.88" height="69.3" fill="#F8766D"/>
<rect x="317.43" y="38" width="11.88" height="65.3" fill="#00BA38"/>
<rect x="329.31" y="55.7" width="11.88" height="47.6" fill="#619CFF"/>
<rect x="345.35" y="13.1" width="11.88" height="90.2" fill="#F8766D"/>
<rect x="357.23" y="14.2" width="11.88" height="89.1" fill="#00BA38"/>
<rect x="369.11" y="58.5" width="11.88" height="44.8" fill="#619CFF"/>
<rect x="385.15" y="13.5" width="11.88" height="89.8" fill="#F8766D"/>
<rect x="397.03" y="14.7" width="11.88" height="88.6" fill="#00BA38"/>
<rect x="408.91" y="58.9" width="11.88" height="44.4" fill="#619CFF"/>
<rect x="424.95" y="13.5" width="11.88" height="89.8" fill="#F8766D"/>
<rect x="436.83" y="16.1" width="11.88" height="87.2" fill="#00BA38"/>
<rect x="448.71" y="57.3" width="11.88" height="46" fill="#619CFF"/>
<line x1="299.6" y1="58.7" x2="466.3" y2="58.7" stroke="#000" stroke-width="1.25" stroke-dasharray="2.1 2.7" stroke-opacity="0.72"/>
<rect x="299.6" y="8.9" width="166.7" height="98.5" fill="none" stroke="#ADADAD" stroke-width="1.15"/>
<line x1="297.2" y1="103.3" x2="299.6" y2="103.3" stroke="#3A3A3A" stroke-width="1.1"/>
<text transform="translate(296.9,107.4) scale(0.62,1)" font-size="9.8" text-anchor="end" font-weight="normal" fill="#5C5C5C">0.0</text>
<line x1="297.2" y1="80.9" x2="299.6" y2="80.9" stroke="#3A3A3A" stroke-width="1.1"/>
<text transform="translate(296.9,84.4) scale(0.62,1)" font-size="9.8" text-anchor="end" font-weight="normal" fill="#5C5C5C">0.5</text>
<line x1="297.2" y1="58.5" x2="299.6" y2="58.5" stroke="#3A3A3A" stroke-width="1.1"/>
<text transform="translate(296.9,62.4) scale(0.62,1)" font-size="9.8" text-anchor="end" font-weight="normal" fill="#5C5C5C">1.0</text>
<line x1="297.2" y1="36.1" x2="299.6" y2="36.1" stroke="#3A3A3A" stroke-width="1.1"/>
<text transform="translate(296.9,39.4) scale(0.62,1)" font-size="9.8" text-anchor="end" font-weight="normal" fill="#5C5C5C">1.5</text>
<line x1="297.2" y1="13.7" x2="299.6" y2="13.7" stroke="#3A3A3A" stroke-width="1.1"/>
<text transform="translate(296.9,17.4) scale(0.62,1)" font-size="9.8" text-anchor="end" font-weight="normal" fill="#5C5C5C">2.0</text>
<line x1="323.37" y1="107.4" x2="323.37" y2="110" stroke="#3A3A3A" stroke-width="1.1"/>
<line x1="363.17" y1="107.4" x2="363.17" y2="110" stroke="#3A3A3A" stroke-width="1.1"/>
<line x1="402.97" y1="107.4" x2="402.97" y2="110" stroke="#3A3A3A" stroke-width="1.1"/>
<line x1="442.77" y1="107.4" x2="442.77" y2="110" stroke="#3A3A3A" stroke-width="1.1"/>
<text transform="translate(329.1,127.4) scale(0.74,1) rotate(-90)" font-size="10.7" text-anchor="middle" font-weight="normal" fill="#5C5C5C" stroke="#5C5C5C" stroke-width="0.25">1</text>
<text transform="translate(368.9,127.4) scale(0.74,1) rotate(-90)" font-size="10.7" text-anchor="middle" font-weight="normal" fill="#5C5C5C" stroke="#5C5C5C" stroke-width="0.25">2</text>
<text transform="translate(408.7,127.4) scale(0.74,1) rotate(-90)" font-size="10.7" text-anchor="middle" font-weight="normal" fill="#5C5C5C" stroke="#5C5C5C" stroke-width="0.25">3</text>
<text transform="translate(448.5,127.4) scale(0.74,1) rotate(-90)" font-size="10.7" text-anchor="middle" font-weight="normal" fill="#5C5C5C" stroke="#5C5C5C" stroke-width="0.25">Global</text>
<text transform="translate(383,153.4) scale(0.63,1)" font-size="11.8" text-anchor="middle" font-weight="bold" fill="#000" stroke="#000" stroke-width="0.45">Year</text>
<text transform="translate(285.4,58) scale(0.66,1) rotate(-90)" font-size="11" text-anchor="middle" font-weight="bold" fill="#000" stroke="#000" stroke-width="0.45">RE MSE</text>
<text transform="translate(476.1,38.4) scale(0.66,1)" font-size="12.3" text-anchor="start" font-weight="normal" fill="#000" stroke="#000" stroke-width="0.2">Method</text>
<rect x="475.8" y="46.45" width="8.9" height="12.95" fill="#F8766D"/>
<text transform="translate(488.8,57.4) scale(0.61,1)" font-size="11.6" text-anchor="start" font-weight="normal" fill="#000" stroke="#000" stroke-width="0.22">MC vs MC_AC</text>
<rect x="475.8" y="60.75" width="8.9" height="12.95" fill="#00BA38"/>
<text transform="translate(488.8,71.4) scale(0.61,1)" font-size="11.6" text-anchor="start" font-weight="normal" fill="#000" stroke="#000" stroke-width="0.22">MC vs MC_C</text>
<rect x="475.8" y="75.05" width="8.9" height="12.95" fill="#619CFF"/>
<text transform="translate(488.8,86.4) scale(0.61,1)" font-size="11.6" text-anchor="start" font-weight="normal" fill="#000" stroke="#000" stroke-width="0.22">MC_C vs MC_AC</text>
</g>
</svg>
</body></html>
